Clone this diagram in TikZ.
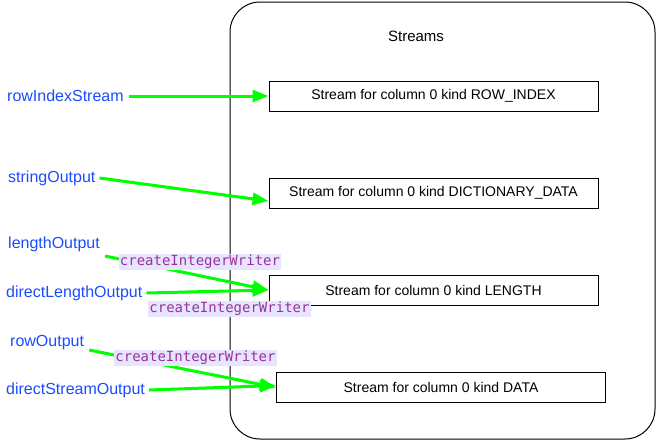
\documentclass[tikz,border=0pt]{standalone}
\usepackage{fontspec}
\setmainfont{Liberation Sans}
\newfontfamily\monofont{DejaVu Sans Mono}
\usepackage{tikz}
\usetikzlibrary{arrows,arrows.meta}

\definecolor{srcblue}{RGB}{26,76,255}
\definecolor{callpurple}{RGB}{153,51,153}
\definecolor{callback}{RGB}{230,228,255}

\begin{document}
\begin{tikzpicture}[x=1pt, y=-1pt,
  paths/.style={->, line width=3pt, draw={rgb,255:red,0;green,255;blue,0},
    >={Triangle[length=16pt,width=12pt]}},
  streambox/.style={draw, line width=1pt, minimum width=329pt, minimum height=30pt,
    inner sep=0pt, font=\fontsize{14}{16}\selectfont},
  source/.style={anchor=west, inner sep=0pt, text=srcblue, font=\fontsize{16}{18}\selectfont},
  writer/.style={fill=callback, text=callpurple, inner sep=1pt,
    font=\monofont\fontsize{14}{16}\selectfont}]

 \useasboundingbox (0,0) rectangle (656,440);

 \draw [line width=1pt, rounded corners=30pt] (230,2) rectangle (655,439);
 \node (title) at (416,36) {\fontsize{15}{18}\selectfont Streams};

 \node [streambox] (stream_1) at (433.5,96) {Stream for column 0 kind ROW\_INDEX};
 \node [streambox] (stream_2) at (433.5,193) {Stream for column 0 kind DICTIONARY\_DATA};
 \node [streambox] (stream_3) at (433.5,290) {Stream for column 0 kind LENGTH};
 \node [streambox] (stream_4) at (441,387.5) {Stream for column 0 kind DATA};

 \node [source] (source_1) at (7,96) {rowIndexStream};
 \node [source] (source_2) at (8,178) {stringOutput};
 \node [source] (source_3) at (8,244) {lengthOutput};
 \node [source] (source_4) at (6,293) {directLengthOutput};
 \node [source] (source_5) at (10,343) {rowOutput};
 \node [source] (source_6) at (6,390) {directStreamOutput};

 \draw [paths] ([xshift=5pt]source_1.east) -- (stream_1.west);
 \draw [paths] ([xshift=4pt]source_2.east) -- ([yshift=-8pt]stream_2.west);
 \draw [paths] ([xshift=5pt,yshift=-12pt]source_3.east) -- (stream_3.west);
 \draw [paths] ([xshift=4pt]source_4.east) -- (stream_3.west);
 \draw [paths] ([xshift=5pt,yshift=-7pt]source_5.east) -- (stream_4.west);
 \draw [paths] ([xshift=4pt]source_6.east) -- ([yshift=2pt]stream_4.west);

 \node [writer] (writer_1) at (200,262) {createIntegerWriter};
 \node [writer] (writer_2) at (229.5,309) {createIntegerWriter};
 \node [writer] (writer_3) at (195.5,358) {createIntegerWriter};

\end{tikzpicture}
\end{document}
